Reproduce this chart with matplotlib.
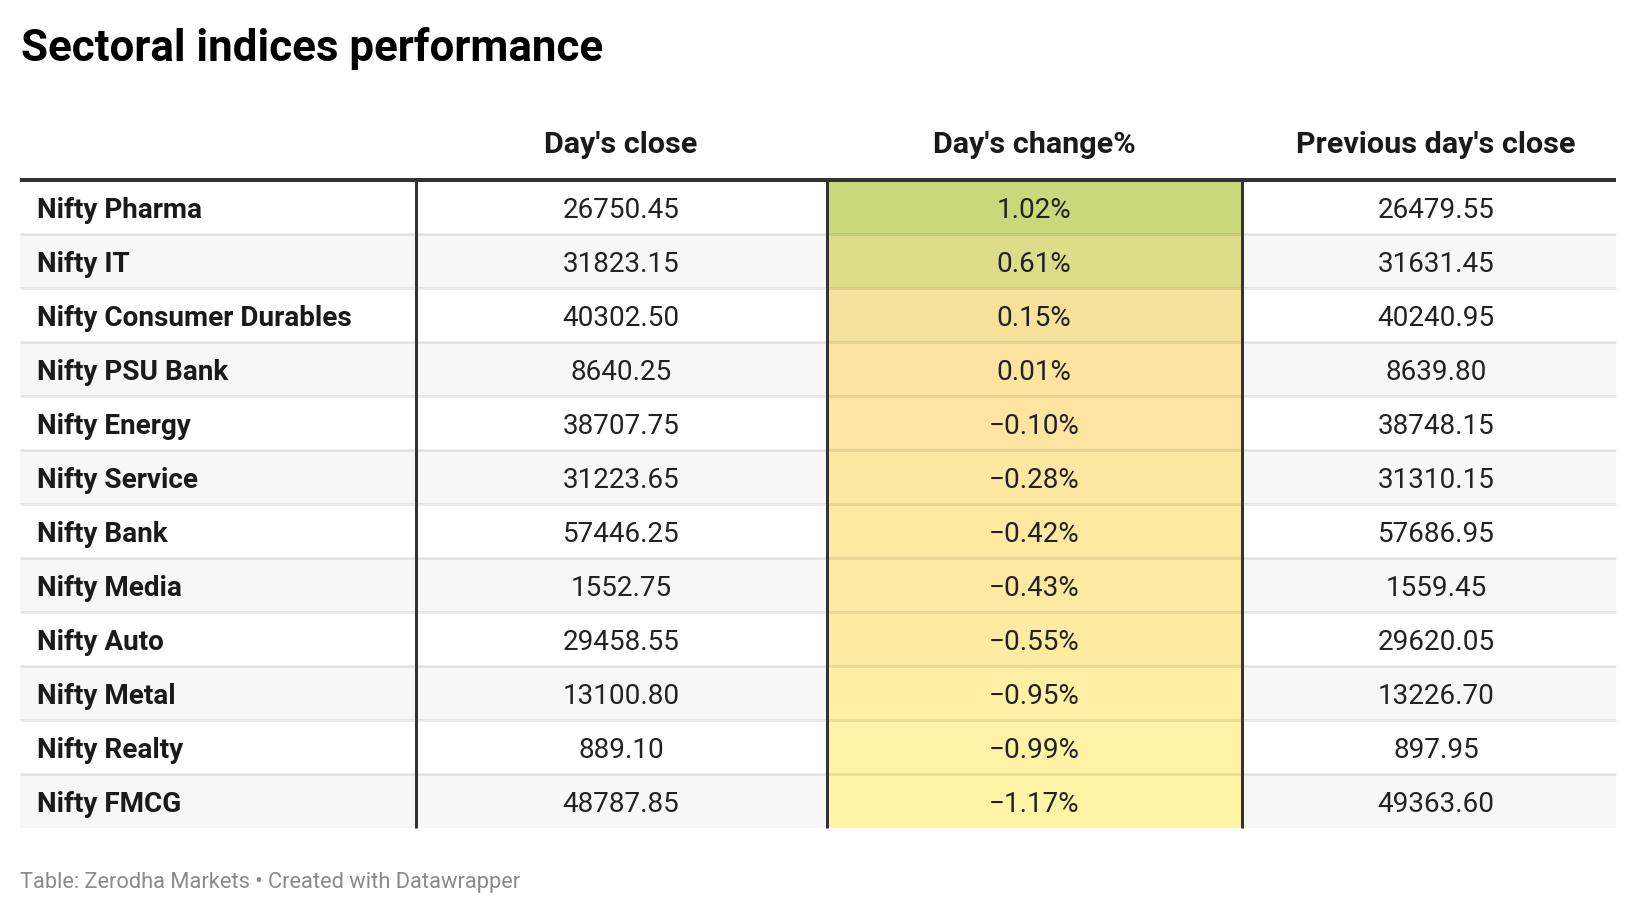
import matplotlib
matplotlib.use("Agg")
import matplotlib.pyplot as plt
from matplotlib.colors import LinearSegmentedColormap, TwoSlopeNorm
from matplotlib.patches import Rectangle

plt.rcParams['font.family'] = ['Roboto', 'DejaVu Sans']

# ---- data ----
title = "Sectoral indices performance"
columns = ["Day's close", "Day's change%", "Previous day's close"]
indices = ["Nifty Pharma", "Nifty IT", "Nifty Consumer Durables", "Nifty PSU Bank",
           "Nifty Energy", "Nifty Service", "Nifty Bank", "Nifty Media",
           "Nifty Auto", "Nifty Metal", "Nifty Realty", "Nifty FMCG"]
days_close = [26750.45, 31823.15, 40302.50, 8640.25, 38707.75, 31223.65,
              57446.25, 1552.75, 29458.55, 13100.80, 889.10, 48787.85]
days_change = [1.02, 0.61, 0.15, 0.01, -0.10, -0.28, -0.42, -0.43, -0.55,
               -0.95, -0.99, -1.17]
prev_close = [26479.55, 31631.45, 40240.95, 8639.80, 38748.15, 31310.15,
              57686.95, 1559.45, 29620.05, 13226.70, 897.95, 49363.60]
footer = "Table: Zerodha Markets \u2022 Created with Datawrapper"

# ---- layout (pixels) ----
W, H = 1636, 914
fig = plt.figure(figsize=(W / 100, H / 100), dpi=100)
ax = fig.add_axes([0, 0, 1, 1])
ax.set_xlim(0, W)
ax.set_ylim(H, 0)
ax.axis('off')

left, right = 20, 1616
table_top = 180
row_h = 54
vlines = [416, 827, 1242]
col_centers = [621, 1034, 1436]
name_x = 37

def pt(px):
    return px * 0.72

cmap = LinearSegmentedColormap.from_list(
    "dw", ["#fff3a6", "#fde39f", "#c8d87b"])
norm = TwoSlopeNorm(vmin=min(days_change), vcenter=0.0, vmax=max(days_change))

def fmt_pct(v):
    s = f"{abs(v):.2f}%"
    return ("\u2212" + s) if v < 0 else s

body_fs = pt(27.9)
n = len(indices)
for i in range(n):
    y0 = table_top + i * row_h
    bg = "#f7f7f7" if i % 2 == 1 else "white"
    ax.add_patch(Rectangle((left, y0), right - left, row_h, facecolor=bg,
                           edgecolor='none', zorder=1))
    ax.add_patch(Rectangle((vlines[1], y0), vlines[2] - vlines[1], row_h,
                           facecolor=cmap(norm(days_change[i])),
                           edgecolor='none', zorder=2))
    if i > 0:
        ax.plot([left, right], [y0, y0], color='black', alpha=0.08,
                lw=pt(3), zorder=3, solid_capstyle='butt')
    yb = y0 + 38
    ax.text(name_x, yb, indices[i], fontsize=body_fs, fontweight='bold',
            color='#1a1a1a', va='baseline', ha='left', zorder=5)
    ax.text(col_centers[0], yb, f"{days_close[i]:.2f}", fontsize=body_fs,
            color='#222222', va='baseline', ha='center', zorder=5)
    ax.text(col_centers[1], yb, fmt_pct(days_change[i]), fontsize=body_fs,
            color='#222222', va='baseline', ha='center', zorder=5)
    ax.text(col_centers[2], yb, f"{prev_close[i]:.2f}", fontsize=body_fs,
            color='#222222', va='baseline', ha='center', zorder=5)

table_bottom = table_top + n * row_h
for x in vlines:
    ax.plot([x, x], [table_top, table_bottom], color='#333333',
            lw=pt(3), zorder=4, solid_capstyle='butt')
ax.plot([left, right], [180, 180], color='#333333', lw=pt(4), zorder=4,
        solid_capstyle='butt')

for c, x in zip(columns, col_centers):
    ax.text(x, 153, c, fontsize=pt(30.5), fontweight='bold', color='#1a1a1a',
            ha='center', va='baseline')

ax.text(21, 61, title, fontsize=pt(43.9), fontweight='bold', color='#000000',
        ha='left', va='baseline')
ax.text(20, 888, footer, fontsize=pt(21.9), color='#8a8a8a', ha='left',
        va='baseline')

fig.savefig("out.png", dpi=100, facecolor='white')
